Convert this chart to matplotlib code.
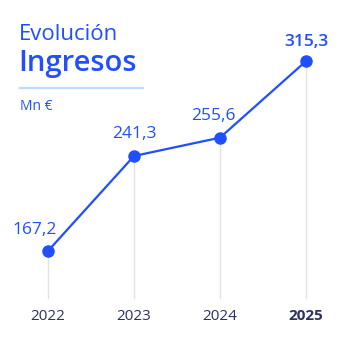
import matplotlib
matplotlib.use('Agg')
import matplotlib.pyplot as plt

plt.rcParams['font.family'] = ['Open Sans', 'DejaVu Sans']

# data
years = [2022, 2023, 2024, 2025]
ingresos = [167.2, 241.3, 255.6, 315.3]
labels = ['167,2', '241,3', '255,6', '315,3']
tick_labels = ['2022', '2023', '2024', '2025']

blue = '#1f4fff'
navy = '#2b3160'

fig = plt.figure(figsize=(3.54, 3.38), dpi=100)
ax = fig.add_axes([0, 0, 1, 1])
ax.set_xlim(2022 - 48 / 86, 2022 + 306 / 86)
ax.set_ylim(99.3, 363.0)
ax.axis('off')

# vertical guide lines from each point down
base = 130.5
for x, y in zip(years, ingresos):
    ax.plot([x, x], [base, y], color='#e2e2e2', lw=1, zorder=1)

ax.plot(years, ingresos, color=blue, lw=1.6, marker='o', ms=8, zorder=3)

# value labels
offsets = [(-13, 13), (0, 14), (-7, 14), (0, 11)]
for i, (x, y) in enumerate(zip(years, ingresos)):
    dx, dy = offsets[i]
    ax.annotate(labels[i], (x, y), xytext=(dx * 0.72, dy * 0.72), textcoords='offset points',
                ha='center', va='bottom', color=blue, fontsize=12.5,
                fontweight='semibold' if i == 3 else 'normal')

# year labels
for i, x in enumerate(years):
    ax.text(x, 99.3 + 22 / 1.282, tick_labels[i], ha='center', va='center', color=navy,
            fontsize=11, fontweight='bold' if i == 3 else 'normal')

# title block
fig.text(19 / 354, 1 - 35 / 338, 'Evolución', color=blue, fontsize=16, va='center', ha='left')
fig.text(18 / 354, 1 - 64 / 338, 'Ingresos', color=blue, fontsize=21, fontweight='semibold',
         va='center', ha='left')
fig.add_artist(plt.Line2D([20 / 354, 143 / 354], [1 - 88 / 338, 1 - 88 / 338],
                          color='#bcdcff', lw=1.6))
fig.text(20 / 354, 1 - 106 / 338, 'Mn €', color=blue, fontsize=10, va='center', ha='left')

fig.savefig('out.png', dpi=100, facecolor='white')
